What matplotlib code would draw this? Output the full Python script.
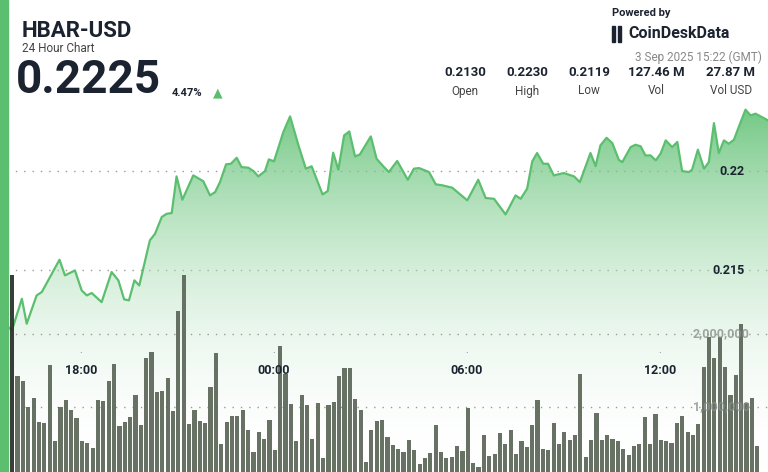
import numpy as np
import matplotlib
matplotlib.use("Agg")
import matplotlib.pyplot as plt
from matplotlib.patches import Rectangle, Polygon

plt.rcParams['font.family'] = ['Roboto', 'DejaVu Sans']

# price path: hours relative to 18:00, price in USD
price_hours = [-2.26, -2.15, -1.84, -1.69, -1.38, -1.22, -0.67, -0.50, -0.19, 0.02, 0.18, 0.33,
               0.64, 0.95, 1.16, 1.34, 1.49, 1.66, 1.81, 2.14, 2.30, 2.51, 2.66, 2.82, 2.97, 3.15,
               3.49, 3.80, 4.01, 4.17, 4.32, 4.51, 4.66, 4.84, 4.99, 5.20, 5.36, 5.51, 5.72, 5.84,
               6.00, 6.29, 6.50, 6.76, 6.99, 7.17, 7.51, 7.67, 7.84, 8.00, 8.18, 8.34, 8.52, 8.67,
               9.01, 9.19, 9.42, 9.57, 9.83, 10.16, 10.35, 10.51, 10.82, 11.03, 11.23, 11.54,
               12.01, 12.35, 12.58, 12.84, 13.20, 13.51, 13.67, 13.87, 14.03, 14.18, 14.37, 14.52,
               14.70, 15.01, 15.33, 15.51, 15.84, 16.00, 16.15, 16.34, 16.52, 16.72, 16.83, 17.09,
               17.24, 17.40, 17.55, 17.71, 17.87, 18.02, 18.18, 18.38, 18.54, 18.69, 18.90, 19.00,
               19.18, 19.37, 19.52, 19.68, 19.83, 19.99, 20.14, 20.30, 20.45, 20.66, 20.82, 20.97,
               21.36]
prices = [0.21212, 0.21195, 0.21355, 0.21229, 0.21372, 0.21389, 0.21552, 0.21473, 0.21498,
          0.21397, 0.21372, 0.21384, 0.21338, 0.21490, 0.21448, 0.21352, 0.21347, 0.21448,
          0.21422, 0.21650, 0.21683, 0.21768, 0.21784, 0.21788, 0.21973, 0.21855, 0.21978,
          0.21949, 0.21877, 0.21894, 0.21944, 0.22034, 0.22037, 0.22067, 0.22020, 0.22017,
          0.22000, 0.21973, 0.22000, 0.22059, 0.22049, 0.22197, 0.22276, 0.22130, 0.22012,
          0.22024, 0.21882, 0.21899, 0.22093, 0.22007, 0.22180, 0.22200, 0.22074, 0.22084,
          0.22175, 0.22062, 0.22020, 0.21995, 0.22051, 0.21956, 0.22012, 0.22015, 0.21995,
          0.21933, 0.21928, 0.21916, 0.21852, 0.21956, 0.21864, 0.21860, 0.21781, 0.21877,
          0.21860, 0.21911, 0.22049, 0.22091, 0.22037, 0.22037, 0.21978, 0.21990, 0.21973,
          0.21944, 0.22091, 0.22025, 0.22130, 0.22168, 0.22141, 0.22057, 0.22045, 0.22121,
          0.22133, 0.22125, 0.22079, 0.22079, 0.22054, 0.22088, 0.22155, 0.22121, 0.22147,
          0.22000, 0.21995, 0.22007, 0.22108, 0.22012, 0.22045, 0.22242, 0.22091, 0.22155,
          0.22138, 0.22158, 0.22222, 0.22310, 0.22281, 0.22290, 0.22256]

# volume per 10-minute bar, in millions
volumes_m = [2.81, 1.42, 1.35, 1.00, 1.13, 0.80, 0.78, 1.58, 0.53, 1.00, 1.10, 0.96, 0.85, 0.53,
             0.51, 0.44, 1.09, 1.08, 1.36, 1.59, 0.74, 0.79, 0.87, 1.17, 0.75, 1.67, 1.76, 1.21,
             1.22, 1.40, 0.95, 2.32, 2.81, 0.77, 0.96, 0.81, 0.78, 1.28, 1.74, 0.50, 0.79, 0.88,
             0.88, 0.96, 0.68, 0.39, 0.66, 0.56, 0.82, 0.41, 1.83, 1.45, 1.04, 0.53, 1.16, 1.03,
             0.56, 1.05, 0.30, 1.03, 1.07, 1.42, 1.54, 1.53, 1.11, 0.96, 0.25, 0.68, 0.81,
             0.82, 0.59, 0.48, 0.42, 0.39, 0.55, 0.41, 0.22, 0.30, 0.37, 0.75, 0.39, 0.30, 0.31,
             0.47, 0.40, 0.98, 0.24, 0.18, 0.62, 0.33, 0.36, 0.64, 0.50, 0.68, 0.36, 0.53, 0.45,
             0.75, 1.10, 0.43, 0.41, 0.78, 0.50, 0.66, 0.55, 0.62, 1.45, 0.32, 0.55, 0.92, 0.55,
             0.62, 0.56, 0.54, 0.43, 0.34, 0.46, 0.50, 0.87, 0.50, 0.90, 0.55, 0.53, 0.51, 0.78,
             0.88, 0.66, 0.62, 0.77, 1.55, 1.96, 1.67, 1.96, 1.55, 1.16, 1.44, 2.14, 1.05, 1.12,
             0.46]
bar_start_hour = -2.14
bar_step_hour = 1 / 6

time_ticks = [0, 6, 12, 18]
time_labels = ["18:00", "00:00", "06:00", "12:00"]
price_ticks = [0.215, 0.22]
price_labels = ["0.215", "0.22"]
vol_ticks = [1e6, 2e6]
vol_labels = ["1,000,000", "2,000,000"]

stats_values = ["0.2130", "0.2230", "0.2119", "127.46 M", "27.87 M"]
stats_names = ["Open", "High", "Low", "Vol", "Vol USD"]

GREEN = "#5bbf6f"
DARK = "#1b2330"

fig = plt.figure(figsize=(7.68, 4.72), dpi=100)
xlim = (-2.52, 21.36)

ax = fig.add_axes([0, 0, 1, 1])
ax.set_xlim(*xlim)
ax.set_ylim(0.2048, 0.22864)
ax.axis("off")

axv = ax.twinx()
axv.set_xlim(*xlim)
axv.set_ylim(0.11e6, 6.575e6)
axv.axis("off")

# gradient area under price line
grad = np.linspace(0, 1, 256).reshape(-1, 1)
cmap = matplotlib.colors.LinearSegmentedColormap.from_list(
    "g", [(1, 1, 1, 0), (0.36, 0.75, 0.44, 0.85)])
img = ax.imshow(grad, extent=[xlim[0], xlim[1], 0.2048, 0.2231], origin="lower",
                aspect="auto", cmap=cmap, zorder=1)
poly = Polygon(list(zip(price_hours, prices)) + [(price_hours[-1], 0.2048), (price_hours[0], 0.2048)],
               closed=True, facecolor="none", edgecolor="none")
ax.add_patch(poly)
img.set_clip_path(poly)
ax.plot(price_hours, prices, color=GREEN, lw=1.6, zorder=3)

# dotted grid
for p in price_ticks:
    ax.plot([-2.3, xlim[1]], [p, p], ls=(0, (1, 5)), color="#999999", lw=1, zorder=0.5)
for v in vol_ticks:
    axv.plot([-2.3, xlim[1]], [v, v], ls=(0, (1, 5)), color="#999999", lw=1, zorder=0.5)

# volume bars
bar_x = bar_start_hour + bar_step_hour * np.arange(len(volumes_m))
colors = ["#2e332d"] + ["#5f6a5c"] * (len(volumes_m) - 1)
axv.bar(bar_x, np.array(volumes_m) * 1e6, width=bar_step_hour * 0.78, color=colors,
        edgecolor="none", zorder=2, alpha=0.95)

# axis labels
for p, lab in zip(price_ticks, price_labels):
    ax.text(20.64, p, lab, ha="right", va="center", fontsize=9, fontweight="bold", color=DARK, zorder=5)
for v, lab in zip(vol_ticks, vol_labels):
    axv.text(20.8, v, lab, ha="right", va="center", fontsize=9, fontweight="bold",
             color="#8a8f8a", alpha=0.8, zorder=5)
for t, lab in zip(time_ticks, time_labels):
    fig.text((t - xlim[0]) / (xlim[1] - xlim[0]), 1 - 370 / 472, lab, ha="center", va="center",
             fontsize=9, fontweight="bold", color=DARK)
    fig.text((t - xlim[0]) / (xlim[1] - xlim[0]), 1 - 350 / 472, ".", ha="center", va="center",
             fontsize=7, color="#666666")

# left accent bar
fig.patches.append(Rectangle((0, 0), 8 / 768, 1, transform=fig.transFigure, color=GREEN, zorder=10))

# header
fig.text(22 / 768, 1 - 31 / 472, "HBAR-USD", fontsize=16, fontweight="bold", color=DARK, va="center")
fig.text(22 / 768, 1 - 48 / 472, "24 Hour Chart", fontsize=8.5, color="#444444", va="center")
fig.text(16 / 768, 1 - 80 / 472, "0.2225", fontsize=33, fontweight="bold", color=DARK, va="center")
fig.text(172 / 768, 1 - 93 / 472, "4.47%", fontsize=8, fontweight="bold", color=DARK, va="center")
fig.text(218 / 768, 1 - 93 / 472, "▲", fontsize=9, color=GREEN, va="center", ha="center")

fig.text(612 / 768, 1 - 13 / 472, "Powered by", fontsize=8, fontweight="bold", color=DARK, va="center")
# logo mark
for dx in (0, 6):
    fig.patches.append(Rectangle(((612 + dx) / 768, 1 - 42 / 472), 3 / 768, 16 / 472,
                                 transform=fig.transFigure, color=DARK))
fig.text(628 / 768, 1 - 34 / 472, "CoinDeskData", fontsize=11.5, fontweight="bold", color=DARK, va="center")
fig.text(762 / 768, 1 - 57 / 472, "3 Sep 2025 15:22 (GMT)", fontsize=8.5, color="#888888", va="center", ha="right")

stat_x = [465, 527, 589, 656, 731]
for x, val, name in zip(stat_x, stats_values, stats_names):
    fig.text(x / 768, 1 - 73 / 472, val, fontsize=9.5, fontweight="bold", color=DARK, ha="center", va="center")
    fig.text(x / 768, 1 - 91 / 472, name, fontsize=8.5, color="#444444", ha="center", va="center")

fig.savefig("out.png", dpi=100)
